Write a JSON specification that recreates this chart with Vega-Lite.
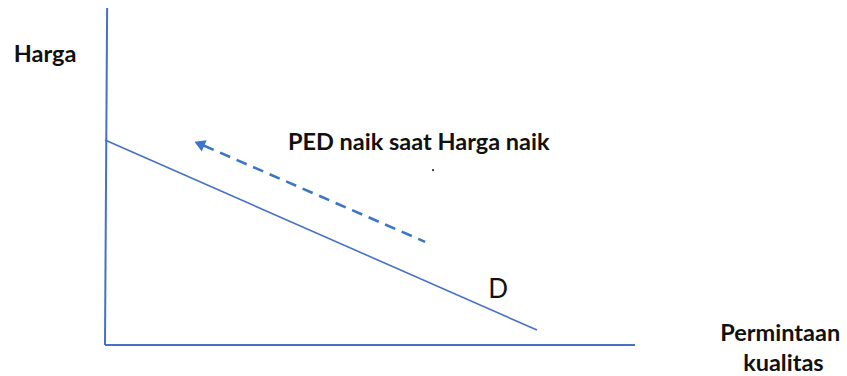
{
  "$schema": "https://vega.github.io/schema/vega-lite/v6.json",
  "autosize": {"type": "fit", "contains": "padding"},
  "width": 847,
  "height": 376,
  "padding": 0,
  "background": "white",
  "config": {"view": {"stroke": null}},
  "datasets": {
    "axes": [
      {"seg": "price", "x": 0.4, "y": 100},
      {"seg": "price", "x": 0, "y": 0},
      {"seg": "quantity", "x": 0, "y": 0},
      {"seg": "quantity", "x": 100, "y": 0}
    ],
    "demand": [
      {"q": 0, "p": 60.8},
      {"q": 81.5, "p": 4.45}
    ],
    "move": [
      {"q": 60.4, "p": 30.6},
      {"q": 18.6, "p": 59.2}
    ],
    "head": [
      {"q": 17.8, "p": 59.7}
    ],
    "boldLabels": [
      {"x": -11.3, "y": 86.1, "label": "Harga"},
      {"x": 59.2, "y": 59.9, "label": "PED naik saat  Harga naik"},
      {"x": 127.4, "y": 3.3, "label": "Permintaan"},
      {"x": 128.0, "y": -5.6, "label": "kualitas"}
    ],
    "curveLabel": [
      {"x": 74.2, "y": 16.3, "label": "D"}
    ],
    "speck": [
      {"x": 61.9, "y": 51.9}
    ]
  },
  "layer": [
    {
      "data": {"name": "axes"},
      "mark": {"type": "line", "color": "#4472C4", "strokeWidth": 2},
      "encoding": {
        "x": {"field": "x", "type": "quantitative", "scale": {"domain": [-19.81, 140], "nice": false, "zero": false}, "axis": null},
        "y": {"field": "y", "type": "quantitative", "scale": {"domain": [-9.2, 102.37], "nice": false, "zero": false}, "axis": null},
        "detail": {"field": "seg"}
      }
    },
    {
      "data": {"name": "demand"},
      "mark": {"type": "line", "color": "#4472C4", "strokeWidth": 1.6},
      "encoding": {
        "x": {"field": "q", "type": "quantitative"},
        "y": {"field": "p", "type": "quantitative"}
      }
    },
    {
      "data": {"name": "move"},
      "mark": {"type": "line", "color": "#3A75C8", "strokeWidth": 2.6, "strokeDash": [11, 7]},
      "encoding": {
        "x": {"field": "q", "type": "quantitative"},
        "y": {"field": "p", "type": "quantitative"}
      }
    },
    {
      "data": {"name": "head"},
      "mark": {"type": "point", "shape": "triangle-up", "filled": true, "color": "#3A75C8", "size": 150, "angle": 293.5, "opacity": 1},
      "encoding": {
        "x": {"field": "q", "type": "quantitative"},
        "y": {"field": "p", "type": "quantitative"}
      }
    },
    {
      "data": {"name": "speck"},
      "mark": {"type": "point", "shape": "square", "filled": true, "color": "#3a3a3a", "size": 4, "opacity": 1},
      "encoding": {
        "x": {"field": "x", "type": "quantitative"},
        "y": {"field": "y", "type": "quantitative"}
      }
    },
    {
      "data": {"name": "boldLabels"},
      "mark": {"type": "text", "font": "Lato", "fontWeight": "bold", "fontSize": 23.5, "color": "#111111", "align": "center", "baseline": "middle"},
      "encoding": {
        "x": {"field": "x", "type": "quantitative"},
        "y": {"field": "y", "type": "quantitative"},
        "text": {"field": "label"}
      }
    },
    {
      "data": {"name": "curveLabel"},
      "mark": {"type": "text", "font": "Lato", "fontSize": 26, "color": "#111111", "align": "center", "baseline": "middle"},
      "encoding": {
        "x": {"field": "x", "type": "quantitative"},
        "y": {"field": "y", "type": "quantitative"},
        "text": {"field": "label"}
      }
    }
  ]
}
